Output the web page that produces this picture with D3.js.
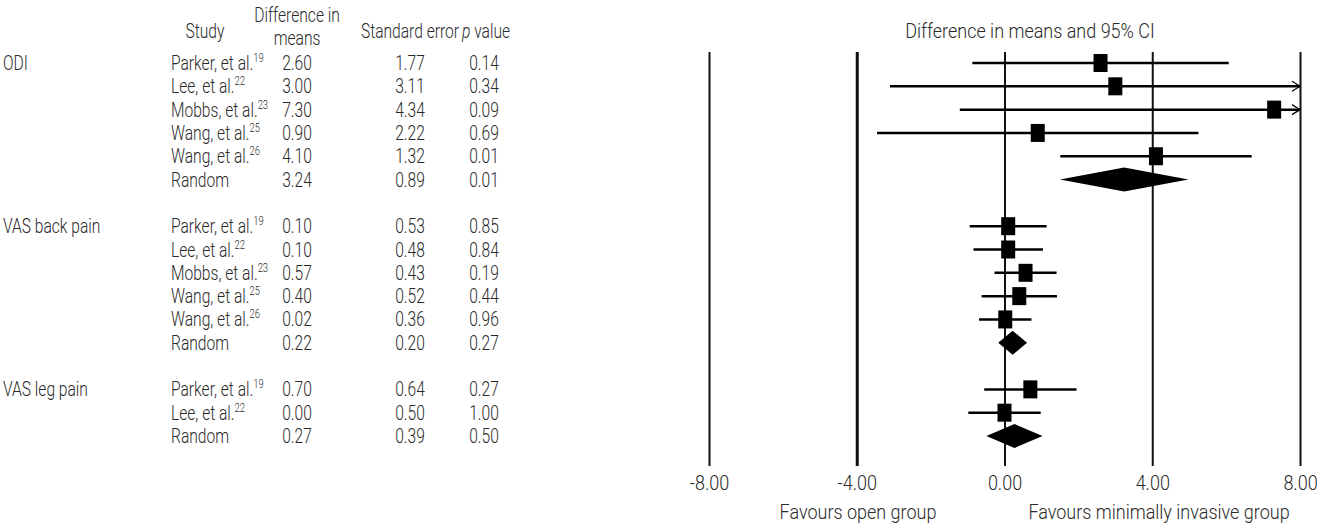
<!DOCTYPE html>
<html>
<head>
<meta charset="utf-8">
<script src="https://cdn.jsdelivr.net/npm/d3@7"></script>
<style>
  body { margin: 0; background: #fff; }
  svg text { font-family: Roboto, "Liberation Sans", sans-serif; fill: #2a2a2a; font-size: 20px; font-weight: 300; }
</style>
</head>
<body>
<div class="forest"></div>
<script>
// data
var groups = ["ODI", "VAS back pain", "VAS leg pain"];
var groupRows = [0, 7, 14];
var studies = ["Parker, et al.", "Lee, et al.", "Mobbs, et al.", "Wang, et al.", "Wang, et al.", "Random",
               "Parker, et al.", "Lee, et al.", "Mobbs, et al.", "Wang, et al.", "Wang, et al.", "Random",
               "Parker, et al.", "Lee, et al.", "Random"];
var refs = ["19", "22", "23", "25", "26", "",
            "19", "22", "23", "25", "26", "",
            "19", "22", ""];
var rows = [0, 1, 2, 3, 4, 5, 7, 8, 9, 10, 11, 12, 14, 15, 16];
var diffMeans = [2.60, 3.00, 7.30, 0.90, 4.10, 3.24, 0.10, 0.10, 0.57, 0.40, 0.02, 0.22, 0.70, 0.00, 0.27];
var stdErr = [1.77, 3.11, 4.34, 2.22, 1.32, 0.89, 0.53, 0.48, 0.43, 0.52, 0.36, 0.20, 0.64, 0.50, 0.39];
var pValues = [0.14, 0.34, 0.09, 0.69, 0.01, 0.01, 0.85, 0.84, 0.19, 0.44, 0.96, 0.27, 0.27, 1.00, 0.50];
var lower = [-0.87, -3.10, -1.21, -3.45, 1.51, 1.50, -0.94, -0.84, -0.27, -0.62, -0.69, -0.17, -0.55, -0.98, -0.49];
var upper = [6.07, 9.10, 15.81, 5.25, 6.69, 4.98, 1.14, 1.04, 1.41, 1.42, 0.73, 0.61, 1.95, 0.98, 1.03];
var isPooled = [false, false, false, false, false, true, false, false, false, false, false, true, false, false, true];
var xTicks = [-8, -4, 0, 4, 8];

var width = 1325, height = 528;

var svg = d3.select(".forest").append("svg")
    .attr("width", width)
    .attr("height", height);

var x = d3.scaleLinear().domain([-8, 8]).range([709, 1300]);
var y = d3.scaleLinear().domain([0, 16]).range([63, 436]);

var data = studies.map(function(s, i) {
  return { study: s, ref: refs[i], row: rows[i], d: diffMeans[i], se: stdErr[i], p: pValues[i],
           lo: lower[i], hi: upper[i], pooled: isPooled[i] };
});

// the original uses a condensed face; squeeze a normal one horizontally
var sxTable = 0.78, sxPlot = 0.9;

function label(parent, px, py, str, anchor, sx) {
  return parent.append("g")
    .attr("transform", "translate(" + px + "," + py + ") scale(" + (sx || sxTable) + ",1)")
    .append("text")
    .attr("text-anchor", anchor || "start")
    .text(str);
}

// header
var head = svg.append("g").attr("class", "header");
label(head, 205, 38, "Study", "middle");
label(head, 297, 22, "Difference in", "middle");
label(head, 297, 45, "means", "middle");
label(head, 410, 38, "Standard error", "middle");
var pv = label(head, 486, 38, "", "middle");
pv.append("tspan").style("font-style", "italic").text("p");
pv.append("tspan").text(" value");
label(head, 1030, 38, "Difference in means and 95% CI", "middle", sxPlot);

// group labels
groups.forEach(function(g, i) {
  label(svg, 3, y(groupRows[i]) + 7, g, "start");
});

// table rows
data.forEach(function(d) {
  var by = y(d.row) + 7;
  var st = label(svg, 171, by, d.study, "start");
  st.append("tspan").attr("dy", -8).style("font-size", "12px").text(d.ref);
  label(svg, 297, by, d.d.toFixed(2), "middle");
  label(svg, 410, by, d.se.toFixed(2), "middle");
  label(svg, 484, by, d.p.toFixed(2), "middle");
});

// axis with full-height reference lines
var xAxis = d3.axisBottom(x)
  .tickValues(xTicks)
  .tickFormat(function(d) { return d3.format(".2f")(d).replace("\u2212", "-"); })
  .tickSizeInner(-(466 - 52))
  .tickSizeOuter(0)
  .tickPadding(10);

var ax = svg.append("g")
  .attr("class", "x axis")
  .attr("transform", "translate(0,466)")
  .call(xAxis);
ax.select(".domain").remove();
ax.attr("font-family", null).attr("font-size", null);
ax.selectAll(".tick line").attr("stroke", "#111").attr("stroke-width", function(d) { return d === -4 ? 3 : 2; });
ax.selectAll(".tick text")
  .attr("fill", "#2a2a2a")
  .attr("y", 24)
  .attr("dy", 0)
  .attr("transform", "scale(" + sxPlot + ",1)");

// CI lines
var plot = svg.append("g").attr("class", "plot");
var studiesOnly = data.filter(function(d) { return !d.pooled; });

plot.selectAll(".ci")
  .data(studiesOnly)
  .enter().append("line")
  .attr("class", "ci")
  .attr("x1", function(d) { return x(Math.max(d.lo, -8)); })
  .attr("x2", function(d) { return x(Math.min(d.hi, 8)); })
  .attr("y1", function(d) { return y(d.row); })
  .attr("y2", function(d) { return y(d.row); })
  .attr("stroke", "#000")
  .attr("stroke-width", 2.5);

// arrows where CI runs off the scale
plot.selectAll(".arrow")
  .data(studiesOnly.filter(function(d) { return d.hi > 8; }))
  .enter().append("path")
  .attr("class", "arrow")
  .attr("d", function(d) {
    var ax0 = x(8), ay = y(d.row);
    return "M" + (ax0 - 8) + "," + (ay - 5) + "L" + ax0 + "," + ay + "L" + (ax0 - 8) + "," + (ay + 5);
  })
  .attr("fill", "none")
  .attr("stroke", "#000")
  .attr("stroke-width", 1.2);

// point estimates
plot.selectAll(".pt")
  .data(studiesOnly)
  .enter().append("rect")
  .attr("class", "pt")
  .attr("x", function(d) { return x(d.d) - 7; })
  .attr("y", function(d) { return y(d.row) - 9; })
  .attr("width", 14)
  .attr("height", 18)
  .attr("fill", "#000");

// pooled diamonds
plot.selectAll(".diamond")
  .data(data.filter(function(d) { return d.pooled; }))
  .enter().append("path")
  .attr("class", "diamond")
  .attr("d", function(d) {
    var cy = y(d.row), h = 12;
    return "M" + x(d.lo) + "," + cy + "L" + x(d.d) + "," + (cy - h) + "L" + x(d.hi) + "," + cy + "L" + x(d.d) + "," + (cy + h) + "Z";
  })
  .attr("fill", "#000");

// favours labels
label(svg, 858, 519, "Favours open group", "middle", sxPlot);
label(svg, 1159, 519, "Favours minimally invasive group", "middle", sxPlot);
</script>
</body>
</html>
